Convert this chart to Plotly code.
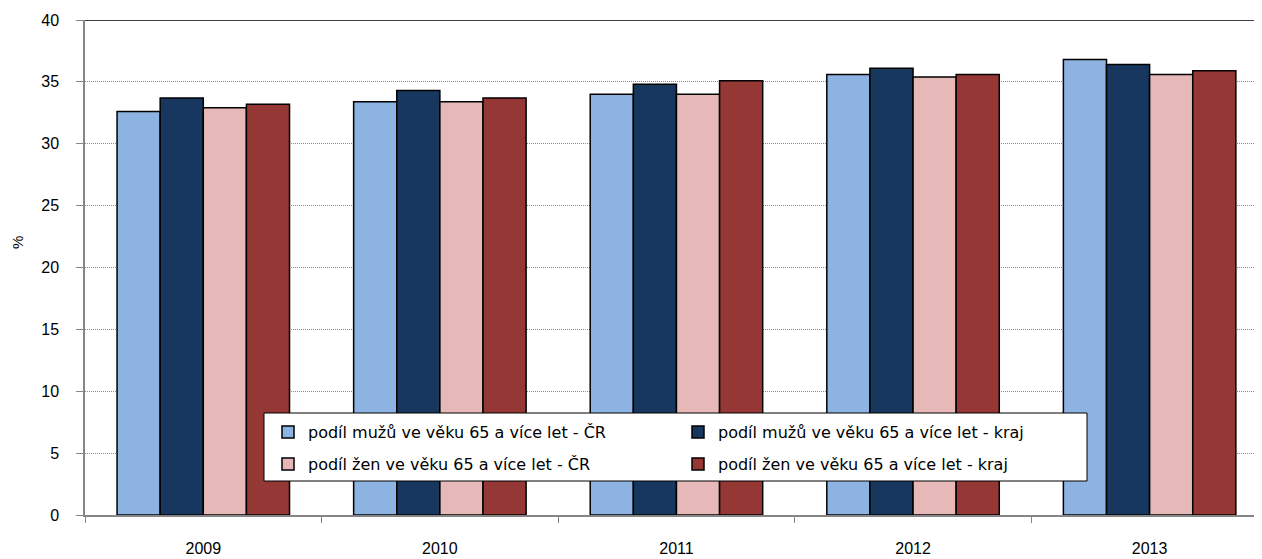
import plotly.graph_objects as go

years = ["2009", "2010", "2011", "2012", "2013"]
men_cr = [32.6, 33.4, 34.0, 35.6, 36.8]
men_kraj = [33.7, 34.3, 34.8, 36.1, 36.4]
women_cr = [32.9, 33.4, 34.0, 35.4, 35.6]
women_kraj = [33.2, 33.7, 35.1, 35.6, 35.9]

names = [
    "podíl mužů ve věku 65 a více let - ČR",
    "podíl mužů ve věku 65 a více let - kraj",
    "podíl žen ve věku 65 a více let - ČR",
    "podíl žen ve věku 65 a více let - kraj",
]
colors = ["#8DB3E2", "#17375E", "#E6B9B8", "#953735"]
series = [men_cr, men_kraj, women_cr, women_kraj]
legends = ["legend", "legend", "legend2", "legend2"]

fig = go.Figure()
for name, vals, col, lg in zip(names, series, colors, legends):
    fig.add_trace(go.Bar(
        x=years, y=vals, name=name, legend=lg,
        marker=dict(color=col, line=dict(color="#000000", width=1.5)),
    ))

# page has an 8px body margin: figure occupies page pixels 8..1262 x 8..559
OFF = 8
W, H = 1262 - OFF, 559 - OFF
ml, mr, mt, mb = 85 - OFF, 0, 20 - OFF, 44
pw, ph = W - ml - mr, H - mt - mb

def px_x(p):  # page pixel -> paper x
    return (p - OFF - ml) / pw

def px_y(p):  # page pixel -> paper y
    return (H - mb - (p - OFF)) / ph

legfont = dict(family="DejaVu Sans", size=16, color="#000000")
leg_common = dict(
    orientation="h", xanchor="left", yanchor="middle",
    bgcolor="rgba(0,0,0,0)", borderwidth=0, font=legfont,
    entrywidth=365, entrywidthmode="pixels", traceorder="normal",
)

tickfont = dict(family="Arial", size=16, color="#000000")

fig.update_layout(
    width=W, height=H,
    margin=dict(l=ml, r=mr, t=mt, b=mb, pad=0),
    paper_bgcolor="white", plot_bgcolor="white",
    barmode="group", bargap=0.271, bargroupgap=0,
    font=dict(family="Arial", size=15, color="#000000"),
    legend=dict(x=px_x(268), y=px_y(432), **leg_common),
    legend2=dict(x=px_x(268), y=px_y(464), **leg_common),
    xaxis=dict(
        type="category", range=[-0.5, 4.475],
        showline=True, linecolor="#868686", linewidth=1.5,
        ticks="outside", tickson="boundaries", ticklen=6, tickcolor="#868686",
        tickwidth=1, showgrid=False, ticklabelstandoff=18,
        tickfont=tickfont,
    ),
    yaxis=dict(
        range=[0, 40], dtick=5, tick0=0,
        showline=True, linecolor="#868686", linewidth=1.5,
        ticks="outside", ticklen=7, tickcolor="#868686", tickwidth=1,
        showgrid=True, gridcolor="#8c8c8c", griddash="1px,1px", gridwidth=1,
        zeroline=False, ticklabelstandoff=14,
        tickfont=tickfont,
    ),
    shapes=[
        dict(type="line", xref="paper", yref="y", x0=0, x1=1, y0=40, y1=40,
             line=dict(color="#404040", width=2), layer="above"),
        dict(type="rect", xref="paper", yref="paper",
             x0=px_x(264), x1=px_x(1087), y0=px_y(481), y1=px_y(413),
             line=dict(color="#000000", width=1), fillcolor="white", layer="above"),
    ],
    annotations=[
        dict(text="%", xref="paper", yref="paper", x=px_x(17), y=px_y(243),
             showarrow=False, textangle=-90, xanchor="center", yanchor="middle",
             font=dict(family="Arial", size=15, color="#000000")),
    ],
)

fig.write_html("out.html")
